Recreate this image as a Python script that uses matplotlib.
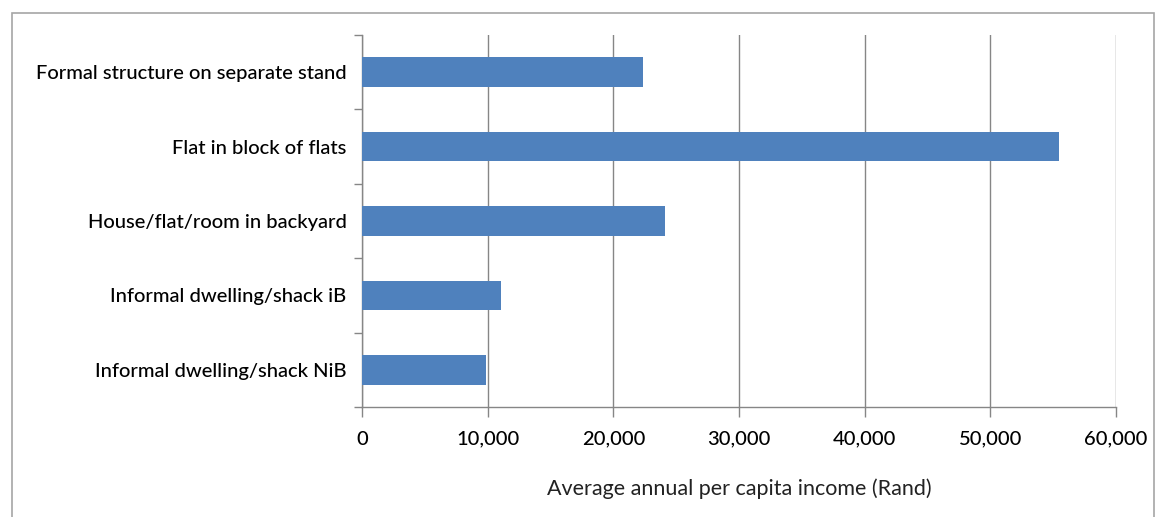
import matplotlib.pyplot as plt
from matplotlib.patches import Rectangle
from matplotlib.ticker import FuncFormatter, MultipleLocator

CATEGORIES = [
    "Formal structure on separate stand",
    "Flat in block of flats",
    "House/flat/room in backyard",
    "Informal dwelling/shack iB",
    "Informal dwelling/shack NiB",
]
INCOME = [22400, 55500, 24100, 11100, 9900]

BAR_COLOR = "#4F81BD"
GRID_COLOR = "#868686"

plt.rcParams["font.family"] = ["Lato", "DejaVu Sans"]

fig = plt.figure(figsize=(11.56, 5.17), dpi=100)
ax = fig.add_axes([362 / 1156, 1 - 407 / 517, (1116 - 362) / 1156, (407 - 35) / 517])

# outer chart frame
fig.patches.append(
    Rectangle((12 / 1156, -0.05), (1154 - 12) / 1156, 1 - 13 / 517 + 0.05,
              transform=fig.transFigure, fill=False, edgecolor="#A6A6A6", linewidth=1.2)
)

ypos = list(range(len(CATEGORIES)))
ax.barh(ypos, INCOME, height=0.4, color=BAR_COLOR, zorder=3)
ax.set_ylim(len(CATEGORIES) - 0.5, -0.5)
ax.set_xlim(0, 60000)

ax.set_yticks(ypos)
ax.set_yticklabels(CATEGORIES, fontsize=14.5, color="#000000", fontweight="medium")
ax.set_yticks([i - 0.5 for i in range(len(CATEGORIES) + 1)], minor=True)
ax.tick_params(axis="y", which="major", length=0, pad=11)
ax.tick_params(axis="y", which="minor", length=6, color=GRID_COLOR, width=1)

ax.xaxis.set_major_locator(MultipleLocator(10000))
ax.xaxis.set_major_formatter(FuncFormatter(lambda v, _: f"{v:,.0f}"))
ax.tick_params(axis="x", length=7, color=GRID_COLOR, width=1, labelsize=14.5,
               labelcolor="#000000", pad=10)
for lbl in ax.get_xticklabels():
    lbl.set_fontweight("medium")
ax.grid(axis="x", color=GRID_COLOR, linewidth=1, zorder=0)

for side in ("top", "right"):
    ax.spines[side].set_visible(False)
for side in ("left", "bottom"):
    ax.spines[side].set_color(GRID_COLOR)
    ax.spines[side].set_linewidth(1)

ax.set_xlabel("Average annual per capita income (Rand)", fontsize=15.5,
              color="#222222", labelpad=22)

fig.savefig("out.png", dpi=100)
